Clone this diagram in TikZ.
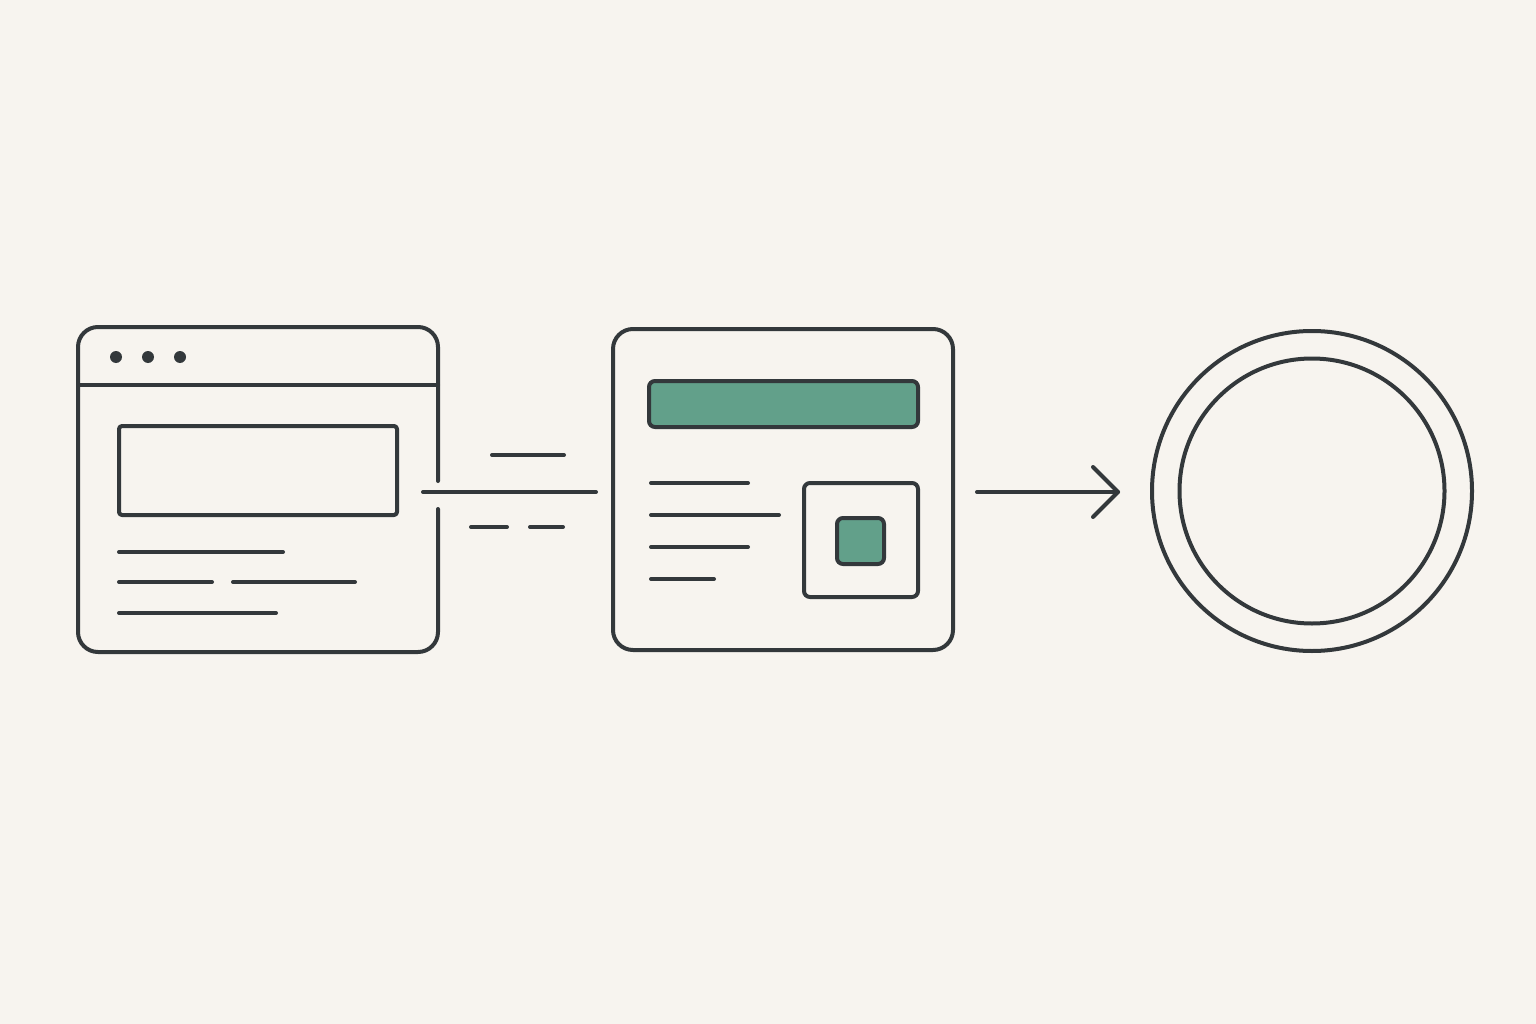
\documentclass[tikz,border=0pt]{standalone}
\usetikzlibrary{arrows.meta}
\definecolor{bg}{HTML}{F7F4EF}
\definecolor{ink}{HTML}{33383B}
\definecolor{teal}{HTML}{62A08A}
\tikzset{
  ol/.style={draw=ink, line width=4pt, line cap=round, line join=round},
  txt/.style={draw=ink, line width=4pt, line cap=round},
}
\begin{document}
\begin{tikzpicture}[x=1pt,y=-1pt]
\fill[bg] (0,0) rectangle (1536,1024);
\useasboundingbox (0,0) rectangle (1536,1024);
% ---- left browser window ----
\draw[ol] (438,481) -- (438,347) arc[start angle=0,end angle=-90,radius=20] -- (98,327)
  arc[start angle=-90,end angle=-180,radius=20] -- (78,632)
  arc[start angle=180,end angle=90,radius=20] -- (418,652)
  arc[start angle=90,end angle=0,radius=20] -- (438,509);
\draw[ol] (78,385) -- (438,385);
\foreach \x in {116,148,180} \fill[ink] (\x,357) circle[radius=6];
\draw[ol, rounded corners=3pt] (119,426) rectangle (397,515);
\draw[txt] (119,552) -- (283,552);
\draw[txt] (119,582) -- (212,582);
\draw[txt] (233,582) -- (355,582);
\draw[txt] (119,613) -- (276,613);
% ---- connector lines ----
\coordinate (c1s) at (423,492);
\coordinate (c1e) at (596,492);
\draw[txt] (c1s) -- (c1e);
\draw[txt] (492,455) -- (564,455);
\draw[txt] (471,527) -- (507,527);
\draw[txt] (530,527) -- (563,527);
% ---- middle card ----
\draw[ol, rounded corners=20pt] (613,329) rectangle (953,650);
\draw[ol, fill=teal, rounded corners=6pt] (649,381) rectangle (918,427);
\draw[txt] (651,483) -- (748,483);
\draw[txt] (651,515) -- (779,515);
\draw[txt] (651,547) -- (748,547);
\draw[txt] (651,579) -- (714,579);
\draw[ol, rounded corners=6pt] (804,483) rectangle (918,597);
\draw[ol, fill=teal, rounded corners=6pt] (837,518) rectangle (884,564);
% ---- arrow ----
\coordinate (as) at (977,492);
\coordinate (ae) at (1118,492);
\draw[txt] (as) -- (ae);
\draw[ol] (1093,467) -- (ae) -- (1093,517);
% ---- circles ----
\node[circle, draw=ink, line width=4pt, minimum size=320pt, inner sep=0pt] (outer) at (1312,491) {};
\node[circle, draw=ink, line width=4pt, minimum size=265pt, inner sep=0pt] (inner) at (1312,491) {};
\end{tikzpicture}
\end{document}
